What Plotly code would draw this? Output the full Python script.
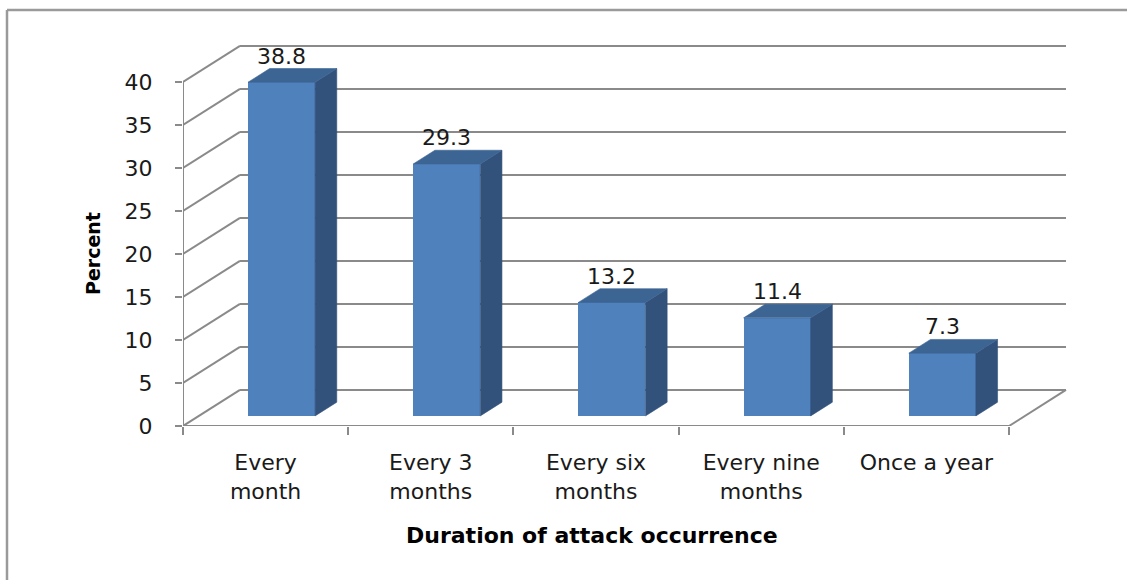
import plotly.graph_objects as go

# ---- data -------------------------------------------------------------
categories = ["Every<br>month", "Every 3<br>months", "Every six<br>months",
              "Every nine<br>months", "Once a year"]
percent = [38.8, 29.3, 13.2, 11.4, 7.3]
value_labels = ["38.8", "29.3", "13.2", "11.4", "7.3"]
y_ticks = [0, 5, 10, 15, 20, 25, 30, 35, 40]

# ---- 3-D look parameters (axis units) ---------------------------------
DX = 0.345        # depth offset along x (category units)
DY = 4.19         # depth offset along y (percent units)
FRONT = 0.28      # bar front plane as fraction of the depth
BAR_DEPTH = 0.38  # bar depth as fraction of the depth
BAR_W = 0.406     # bar width (category units)

FRONT_C = "#4F81BD"
TOP_C = "#3C6594"
SIDE_C = "#32527C"
GRID_C = "#8A8A8A"
FONT = "DejaVu Sans"

n = len(categories)
x_lo, x_hi = -0.5, n - 0.5
y_top = y_ticks[-1]

fig = go.Figure()

# front faces of the bars
base = FRONT * DY
fig.add_trace(go.Bar(
    x=[i + FRONT * DX for i in range(n)], y=percent, base=base,
    width=BAR_W, marker=dict(color=FRONT_C, line=dict(width=0)),
    hoverinfo="skip", showlegend=False))

# side and top faces
side_x, side_y, top_x, top_y = [], [], [], []
ddx, ddy = BAR_DEPTH * DX, BAR_DEPTH * DY
for i, v in enumerate(percent):
    x0 = i + FRONT * DX - BAR_W / 2
    x1 = i + FRONT * DX + BAR_W / 2
    yt = base + v
    side_x += [x1, x1, x1 + ddx, x1 + ddx, x1, None]
    side_y += [base, yt, yt + ddy, base + ddy, base, None]
    top_x += [x0, x1, x1 + ddx, x0 + ddx, x0, None]
    top_y += [yt, yt, yt + ddy, yt + ddy, yt, None]

fig.add_trace(go.Scatter(x=side_x, y=side_y, fill="toself", fillcolor=SIDE_C,
                         mode="lines", line=dict(width=0.6, color=SIDE_C),
                         hoverinfo="skip", showlegend=False))
fig.add_trace(go.Scatter(x=top_x, y=top_y, fill="toself", fillcolor=TOP_C,
                         mode="lines", line=dict(width=0.6, color=TOP_C),
                         hoverinfo="skip", showlegend=False))

# gridlines on side wall and back wall, beneath the bars
shapes = []
line = dict(color=GRID_C, width=2)
for v in y_ticks:
    shapes.append(dict(type="line", xref="x", yref="y", layer="below",
                       x0=x_lo, y0=v, x1=x_lo + DX, y1=v + DY, line=line))
    shapes.append(dict(type="line", xref="x", yref="y", layer="below",
                       x0=x_lo + DX, y0=v + DY, x1=x_hi + DX, y1=v + DY,
                       line=line))
# floor right edge, front floor edge and front vertical axis
shapes.append(dict(type="line", xref="x", yref="y", layer="below",
                   x0=x_hi, y0=0, x1=x_hi + DX, y1=DY, line=line))
shapes.append(dict(type="line", xref="x", yref="y", layer="below",
                   x0=x_lo, y0=0, x1=x_hi, y1=0, line=line))
shapes.append(dict(type="line", xref="x", yref="y", layer="below",
                   x0=x_lo, y0=0, x1=x_lo, y1=y_top, line=line))

# chart frame: only its top and left edges fall inside the page
W, H = 1127, 580
ML, MR, MT, MB = 183, 0, 0, 154
pw, ph = W - ML - MR, H - MT - MB
def px_x(p):
    return (p - ML) / pw
def px_y(p):
    return (H - MB - p) / ph
frame = dict(color="#9A9A9A", width=2.5)
shapes.append(dict(type="line", xref="paper", yref="paper", layer="below",
                   x0=px_x(7), y0=px_y(10), x1=px_x(W + 5), y1=px_y(10), line=frame))
shapes.append(dict(type="line", xref="paper", yref="paper", layer="below",
                   x0=px_x(7), y0=px_y(10), x1=px_x(7), y1=px_y(H + 5), line=frame))

annotations = []
for i, (v, t) in enumerate(zip(percent, value_labels)):
    annotations.append(dict(x=i + FRONT * DX, y=base + v + ddy, xref="x", yref="y",
                            text=t, showarrow=False, xanchor="center",
                            yanchor="bottom", yshift=-2,
                            font=dict(family=FONT, size=22, color="#1A1A1A")))
annotations.append(dict(x=px_x(592), y=px_y(535), xref="paper", yref="paper",
                        text="<b>Duration of attack occurrence</b>", showarrow=False,
                        xanchor="center", yanchor="middle",
                        font=dict(family=FONT, size=22, color="#000000")))
annotations.append(dict(x=px_x(93), y=px_y(254), xref="paper", yref="paper",
                        text="<b>Percent</b>", showarrow=False, textangle=-90,
                        xanchor="center", yanchor="middle",
                        font=dict(family=FONT, size=19, color="#000000")))

# axis ranges chosen so one category spans 165.2 px and one percent 8.6 px
x_range = [x_lo, x_lo + pw / 165.2]
y_range = [0, ph / 8.6]

fig.update_layout(
    width=W, height=H, margin=dict(l=ML, r=MR, t=MT, b=MB),
    paper_bgcolor="white", plot_bgcolor="white",
    shapes=shapes, annotations=annotations, bargap=0,
    xaxis=dict(range=x_range, tickmode="array", tickvals=list(range(n)),
               ticktext=categories, ticks="", showgrid=False, zeroline=False,
               showline=False, ticklabelstandoff=21,
               tickfont=dict(family=FONT, size=22, color="#1A1A1A"),
               minor=dict(tickmode="array", tickvals=[k - 0.5 for k in range(n + 1)],
                          ticks="outside", ticklen=8, tickwidth=2,
                          tickcolor=GRID_C, showgrid=False),
               fixedrange=True),
    yaxis=dict(range=y_range, tickmode="array", tickvals=y_ticks,
               ticktext=[str(t) for t in y_ticks], ticks="outside", ticklen=7,
               tickwidth=2, tickcolor=GRID_C, showgrid=False, zeroline=False,
               showline=False, ticklabelstandoff=18,
               tickfont=dict(family=FONT, size=22, color="#1A1A1A"),
               fixedrange=True),
)

fig.write_html("out.html")
